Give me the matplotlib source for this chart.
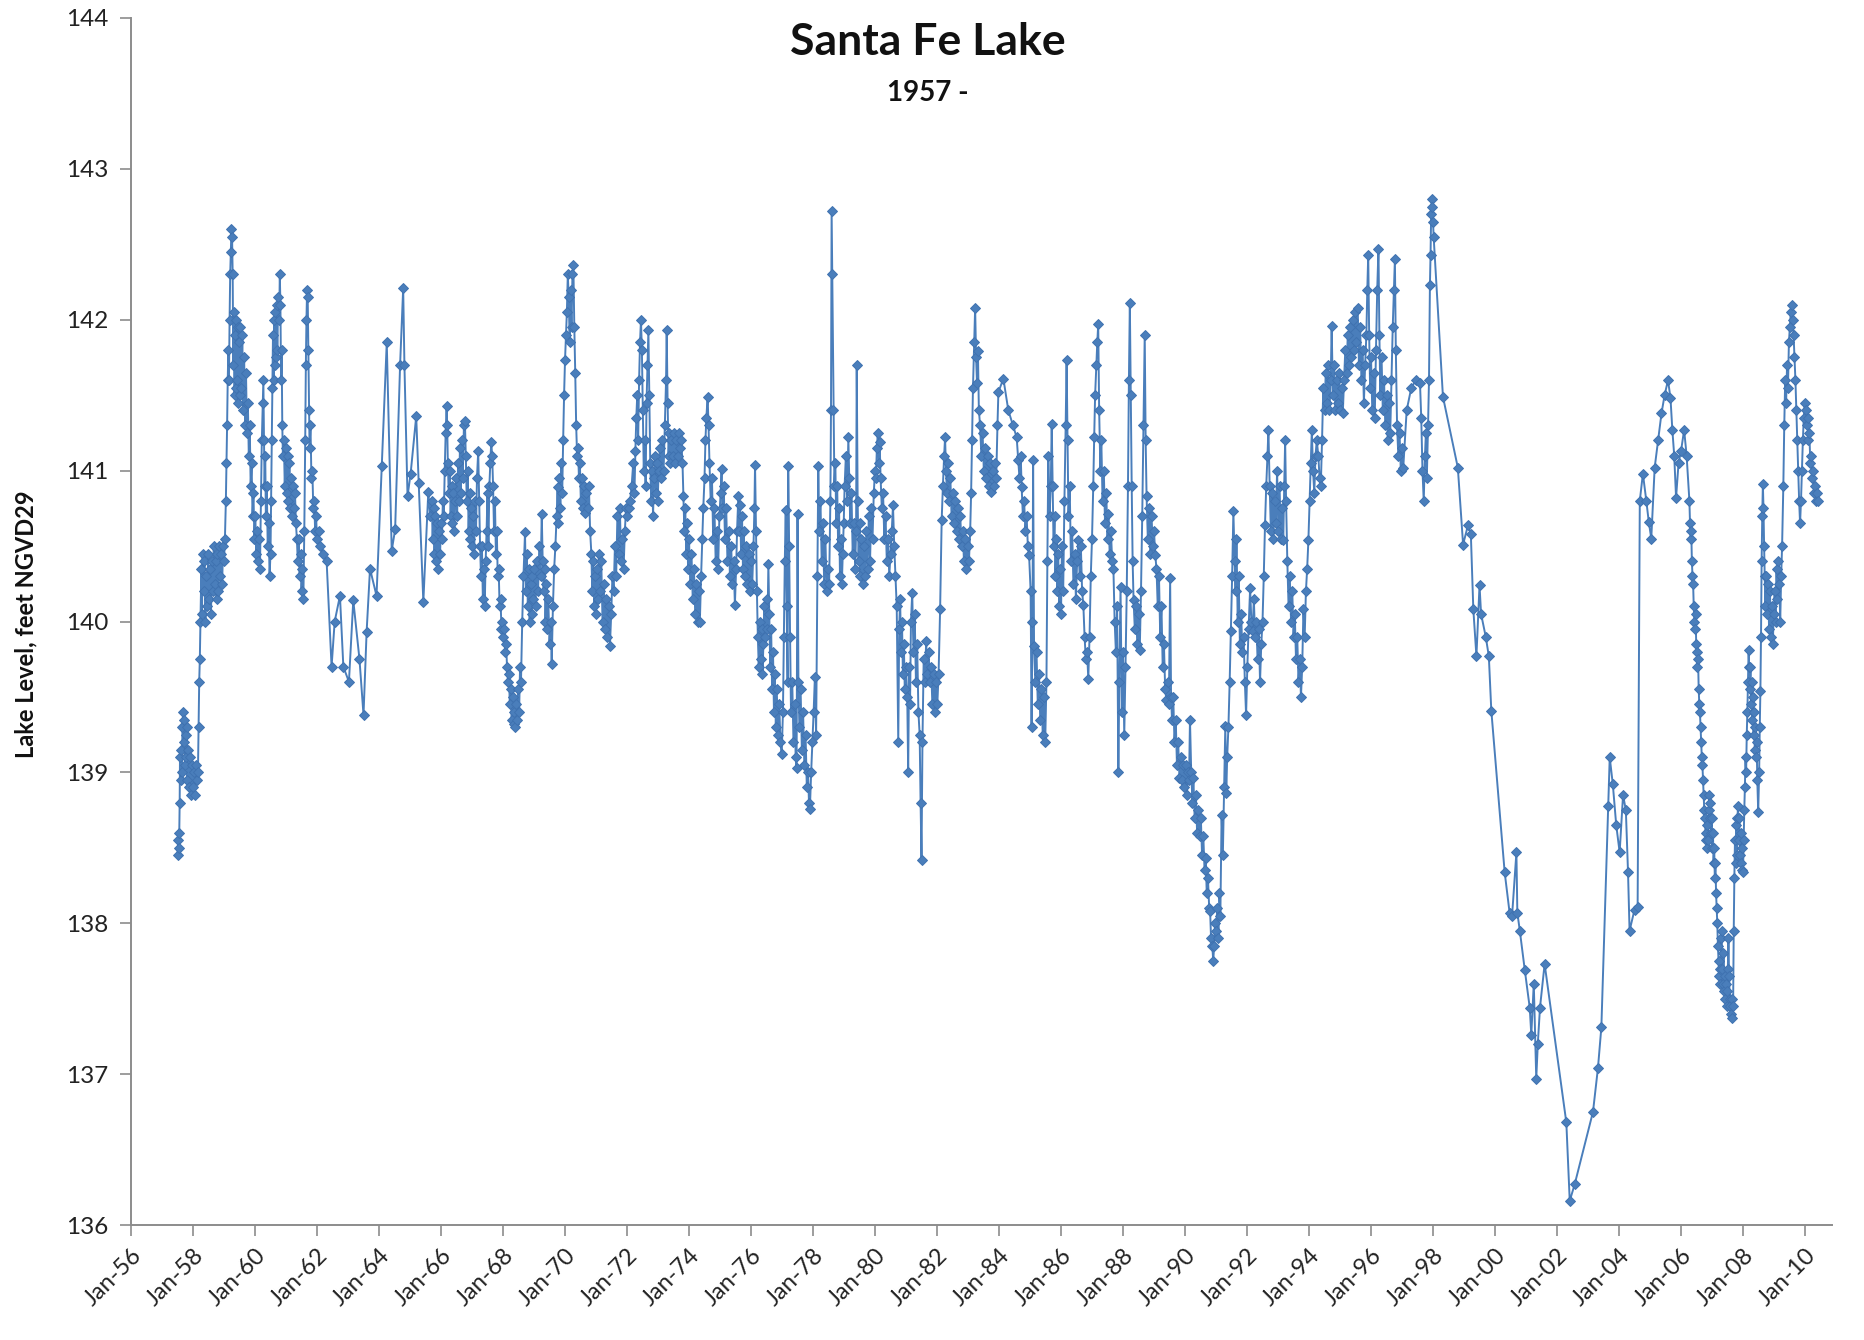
import matplotlib
matplotlib.use("Agg")
import matplotlib.pyplot as plt

# ---------------- data: (decimal year, lake level ft NGVD29) ----------------
seg_1957_1965 = [
    (1957.50, 138.45), (1957.52, 138.55), (1957.54, 138.60), (1957.55, 138.50), (1957.57, 138.80),
    (1957.58, 139.10), (1957.60, 138.95), (1957.62, 139.15), (1957.64, 139.00), (1957.66, 139.30),
    (1957.68, 139.40), (1957.70, 139.20), (1957.72, 139.35), (1957.74, 139.05), (1957.76, 139.25),
    (1957.78, 139.10), (1957.80, 139.30), (1957.82, 138.95), (1957.85, 139.15), (1957.88, 138.90),
    (1957.90, 139.10), (1957.93, 138.85), (1957.96, 139.05), (1958.00, 138.90), (1958.03, 139.00),
    (1958.06, 138.85), (1958.10, 139.05), (1958.13, 138.95), (1958.16, 139.00), (1958.18, 139.30),
    (1958.20, 139.60), (1958.22, 139.75), (1958.24, 140.00), (1958.27, 140.35), (1958.29, 140.05),
    (1958.31, 140.45), (1958.34, 140.20), (1958.37, 140.40), (1958.40, 140.00), (1958.43, 140.30),
    (1958.46, 140.10), (1958.49, 140.45), (1958.52, 140.15), (1958.55, 140.35), (1958.58, 140.05),
    (1958.61, 140.40), (1958.64, 140.20), (1958.67, 140.50), (1958.70, 140.25), (1958.73, 140.40),
    (1958.76, 140.15), (1958.79, 140.45), (1958.82, 140.20), (1958.85, 140.50), (1958.88, 140.30),
    (1958.91, 140.45), (1958.94, 140.25), (1958.97, 140.50), (1959.00, 140.40), (1959.03, 140.55),
    (1959.06, 140.80), (1959.08, 141.05), (1959.10, 141.30), (1959.12, 141.60), (1959.14, 141.80),
    (1959.16, 141.60), (1959.18, 142.00), (1959.20, 142.30), (1959.22, 142.45), (1959.24, 142.60),
    (1959.26, 142.55), (1959.28, 142.30), (1959.30, 141.70), (1959.32, 142.05), (1959.34, 141.50),
    (1959.36, 141.90), (1959.38, 141.55), (1959.40, 142.00), (1959.42, 141.60), (1959.44, 141.95),
    (1959.46, 141.45), (1959.48, 141.85), (1959.50, 141.50), (1959.53, 141.95), (1959.56, 141.55),
    (1959.59, 141.90), (1959.62, 141.40), (1959.65, 141.75), (1959.68, 141.30), (1959.71, 141.65),
    (1959.74, 141.25), (1959.77, 141.45), (1959.80, 141.10), (1959.83, 141.30), (1959.86, 140.90),
    (1959.89, 141.05), (1959.92, 140.70), (1959.95, 140.85), (1959.98, 140.55), (1960.01, 140.70),
    (1960.04, 140.45), (1960.07, 140.60), (1960.10, 140.40), (1960.13, 140.55), (1960.16, 140.35),
    (1960.19, 140.80), (1960.22, 141.20), (1960.25, 141.45), (1960.27, 141.60), (1960.29, 141.20),
    (1960.31, 140.90), (1960.33, 141.10), (1960.35, 140.70), (1960.38, 140.90), (1960.41, 140.50),
    (1960.44, 140.65), (1960.47, 140.30), (1960.50, 140.45), (1960.52, 140.80), (1960.54, 141.20),
    (1960.56, 141.55), (1960.58, 141.90), (1960.60, 141.60), (1960.62, 142.00), (1960.64, 141.70),
    (1960.66, 142.05), (1960.68, 141.75), (1960.70, 142.10), (1960.72, 141.80), (1960.75, 142.15),
    (1960.78, 142.00), (1960.80, 142.30), (1960.82, 142.10), (1960.84, 141.60), (1960.86, 141.80),
    (1960.88, 141.30), (1960.90, 141.10), (1960.93, 141.20), (1960.96, 140.90), (1960.99, 141.15),
    (1961.02, 140.85), (1961.05, 141.10), (1961.08, 140.80), (1961.11, 141.05), (1961.14, 140.75),
    (1961.17, 140.95), (1961.20, 140.70), (1961.23, 140.90), (1961.26, 140.75), (1961.29, 140.85),
    (1961.32, 140.65), (1961.35, 140.55), (1961.38, 140.40), (1961.41, 140.55), (1961.44, 140.30),
    (1961.47, 140.45), (1961.50, 140.20), (1961.53, 140.35), (1961.56, 140.15), (1961.59, 140.60),
    (1961.62, 141.20), (1961.64, 141.70), (1961.66, 142.00), (1961.68, 142.20), (1961.70, 142.15),
    (1961.72, 141.80), (1961.74, 141.40), (1961.76, 141.15), (1961.79, 141.30), (1961.82, 140.95),
    (1961.85, 141.00), (1961.88, 140.75), (1961.91, 140.80), (1961.94, 140.60), (1961.97, 140.70),
    (1962.00, 140.55), (1962.05, 140.60), (1962.10, 140.50), (1962.20, 140.45), (1962.31, 140.40),
    (1962.47, 139.70), (1962.57, 140.00), (1962.74, 140.17), (1962.85, 139.70), (1963.03, 139.60),
    (1963.17, 140.14), (1963.37, 139.75), (1963.50, 139.38), (1963.60, 139.93), (1963.71, 140.35),
    (1963.92, 140.17), (1964.09, 141.03), (1964.25, 141.85), (1964.41, 140.47), (1964.52, 140.61),
    (1964.68, 141.70), (1964.78, 142.21), (1964.82, 141.70), (1964.92, 140.83), (1965.02, 140.98),
    (1965.20, 141.36),
]

seg_1965_1973 = [
    (1965.28, 140.92), (1965.43, 140.13), (1965.59, 140.86), (1965.65, 140.70), (1965.70, 140.80),
    (1965.73, 140.55), (1965.76, 140.75), (1965.79, 140.45), (1965.82, 140.70), (1965.85, 140.40),
    (1965.88, 140.65), (1965.91, 140.35), (1965.94, 140.60), (1965.97, 140.45), (1966.00, 140.65),
    (1966.03, 140.55), (1966.06, 140.80), (1966.09, 140.70), (1966.12, 141.00), (1966.15, 141.25),
    (1966.18, 141.43), (1966.20, 141.30), (1966.22, 141.05), (1966.25, 140.85), (1966.28, 141.00),
    (1966.31, 140.70), (1966.34, 140.90), (1966.37, 140.65), (1966.40, 140.85), (1966.43, 140.60),
    (1966.46, 140.80), (1966.49, 140.95), (1966.52, 140.70), (1966.55, 141.05), (1966.58, 140.80),
    (1966.61, 141.15), (1966.64, 140.85), (1966.67, 141.20), (1966.70, 140.95), (1966.74, 141.30),
    (1966.77, 141.33), (1966.80, 141.10), (1966.83, 140.80), (1966.86, 141.00), (1966.89, 140.60),
    (1966.92, 140.85), (1966.95, 140.55), (1966.98, 140.75), (1967.01, 140.50), (1967.04, 140.70),
    (1967.07, 140.45), (1967.10, 140.80), (1967.13, 140.60), (1967.16, 140.95), (1967.20, 141.13),
    (1967.23, 140.80), (1967.26, 140.50), (1967.29, 140.30), (1967.32, 140.50), (1967.35, 140.15),
    (1967.38, 140.35), (1967.41, 140.10), (1967.44, 140.40), (1967.47, 140.60), (1967.50, 140.85),
    (1967.53, 140.50), (1967.56, 140.90), (1967.59, 141.05), (1967.62, 141.19), (1967.65, 141.10),
    (1967.68, 140.90), (1967.71, 140.60), (1967.74, 140.80), (1967.77, 140.45), (1967.80, 140.60),
    (1967.83, 140.30), (1967.86, 140.35), (1967.89, 140.10), (1967.92, 140.15), (1967.95, 139.95),
    (1967.98, 140.00), (1968.01, 139.90), (1968.04, 139.95), (1968.07, 139.80), (1968.10, 139.85),
    (1968.13, 139.70), (1968.16, 139.60), (1968.19, 139.65), (1968.22, 139.45), (1968.25, 139.55),
    (1968.28, 139.35), (1968.31, 139.50), (1968.34, 139.32), (1968.37, 139.40), (1968.40, 139.30),
    (1968.43, 139.45), (1968.46, 139.35), (1968.49, 139.55), (1968.52, 139.40), (1968.55, 139.70),
    (1968.58, 139.60), (1968.62, 140.00), (1968.66, 140.30), (1968.71, 140.59), (1968.74, 140.20),
    (1968.77, 140.45), (1968.80, 140.10), (1968.83, 140.35), (1968.86, 140.00), (1968.89, 140.25),
    (1968.92, 140.05), (1968.95, 140.30), (1968.98, 140.15), (1969.01, 140.35), (1969.05, 140.10),
    (1969.09, 140.40), (1969.13, 140.20), (1969.17, 140.50), (1969.21, 140.30), (1969.25, 140.71),
    (1969.28, 140.40), (1969.31, 140.20), (1969.34, 140.35), (1969.37, 140.00), (1969.40, 140.25),
    (1969.43, 139.95), (1969.46, 140.15), (1969.50, 139.85), (1969.54, 140.00), (1969.57, 139.72),
    (1969.61, 140.10), (1969.65, 140.35), (1969.69, 140.50), (1969.73, 140.70), (1969.76, 140.89),
    (1969.79, 140.65), (1969.82, 140.95), (1969.85, 140.75), (1969.88, 141.05), (1969.91, 140.85),
    (1969.94, 141.20), (1969.97, 141.50), (1970.00, 141.73), (1970.03, 141.90), (1970.06, 142.05),
    (1970.09, 142.30), (1970.12, 142.15), (1970.15, 141.85), (1970.18, 142.20), (1970.21, 141.95),
    (1970.24, 142.30), (1970.27, 142.36), (1970.30, 141.95), (1970.33, 141.65), (1970.36, 141.30),
    (1970.39, 141.10), (1970.42, 141.15), (1970.45, 140.95), (1970.48, 141.05), (1970.51, 140.80),
    (1970.54, 140.95), (1970.57, 140.75), (1970.61, 140.90), (1970.65, 140.72), (1970.69, 140.85),
    (1970.73, 140.75), (1970.77, 140.90), (1970.81, 140.60), (1970.85, 140.45), (1970.88, 140.20),
    (1970.91, 140.40), (1970.94, 140.10), (1970.97, 140.30), (1971.00, 140.05), (1971.03, 140.35),
    (1971.06, 140.15), (1971.09, 140.45), (1971.13, 140.20), (1971.17, 140.40), (1971.21, 140.00),
    (1971.25, 140.25), (1971.29, 139.95), (1971.33, 140.15), (1971.37, 139.90), (1971.41, 140.10),
    (1971.45, 139.84), (1971.49, 140.05), (1971.53, 140.30), (1971.57, 140.20), (1971.61, 140.50),
    (1971.65, 140.30), (1971.69, 140.70), (1971.73, 140.45), (1971.77, 140.75), (1971.81, 140.40),
    (1971.85, 140.55), (1971.89, 140.35), (1971.93, 140.60), (1971.97, 140.75), (1972.01, 140.70),
    (1972.05, 140.75), (1972.10, 140.80), (1972.15, 140.90), (1972.20, 141.05), (1972.24, 140.85),
    (1972.27, 141.13), (1972.30, 141.35), (1972.33, 141.50), (1972.36, 141.20), (1972.39, 141.60),
    (1972.42, 141.85), (1972.45, 142.00), (1972.48, 141.80), (1972.51, 141.40), (1972.54, 141.00),
    (1972.57, 141.20), (1972.60, 140.90), (1972.63, 141.45), (1972.66, 141.70), (1972.69, 141.93),
    (1972.72, 141.50), (1972.75, 141.05), (1972.78, 140.80), (1972.81, 141.00), (1972.84, 140.70),
    (1972.87, 140.95), (1972.90, 141.10), (1972.93, 140.85), (1972.96, 141.05), (1972.99, 140.80),
    (1973.02, 141.00), (1973.06, 141.15), (1973.10, 140.95), (1973.14, 141.20), (1973.18, 141.00),
    (1973.22, 141.30), (1973.26, 141.60), (1973.28, 141.93), (1973.31, 141.45), (1973.34, 141.10),
    (1973.37, 141.25), (1973.40, 141.05), (1973.43, 141.20), (1973.47, 141.10), (1973.51, 141.25),
    (1973.55, 141.05), (1973.59, 141.20), (1973.63, 141.10), (1973.67, 141.25), (1973.71, 141.15),
    (1973.75, 141.20), (1973.79, 141.05),
]

seg_1973_1981 = [
    (1973.82, 140.83), (1973.85, 140.60), (1973.88, 140.75), (1973.91, 140.45), (1973.94, 140.65),
    (1973.97, 140.35), (1974.00, 140.55), (1974.04, 140.25), (1974.08, 140.45), (1974.12, 140.15),
    (1974.16, 140.35), (1974.20, 140.05), (1974.24, 140.25), (1974.28, 140.00), (1974.31, 140.20),
    (1974.35, 140.00), (1974.39, 140.30), (1974.43, 140.55), (1974.46, 140.75), (1974.50, 140.95),
    (1974.53, 141.20), (1974.56, 141.35), (1974.60, 141.49), (1974.63, 141.30), (1974.66, 141.05),
    (1974.70, 140.80), (1974.74, 140.95), (1974.78, 140.55), (1974.82, 140.75), (1974.86, 140.40),
    (1974.90, 140.60), (1974.94, 140.35), (1974.98, 140.70), (1975.02, 140.85), (1975.05, 141.01),
    (1975.08, 140.75), (1975.12, 140.90), (1975.16, 140.55), (1975.20, 140.75), (1975.24, 140.40),
    (1975.28, 140.60), (1975.32, 140.30), (1975.36, 140.50), (1975.40, 140.25), (1975.44, 140.40),
    (1975.48, 140.11), (1975.52, 140.35), (1975.55, 140.60), (1975.59, 140.83), (1975.62, 140.60),
    (1975.65, 140.77), (1975.68, 140.45), (1975.71, 140.70), (1975.74, 140.35), (1975.77, 140.60),
    (1975.80, 140.30), (1975.84, 140.50), (1975.88, 140.25), (1975.92, 140.45), (1975.96, 140.20),
    (1976.00, 140.40), (1976.04, 140.25), (1976.08, 140.50), (1976.11, 140.75), (1976.13, 141.04),
    (1976.16, 140.60), (1976.19, 140.20), (1976.22, 139.90), (1976.25, 139.70), (1976.28, 140.00),
    (1976.31, 139.75), (1976.34, 139.95), (1976.37, 139.65), (1976.40, 139.85), (1976.43, 140.10),
    (1976.46, 139.90), (1976.50, 140.15), (1976.53, 139.95), (1976.56, 140.38), (1976.59, 140.05),
    (1976.62, 139.70), (1976.65, 139.95), (1976.68, 139.55), (1976.71, 139.80), (1976.74, 139.40),
    (1976.77, 139.65), (1976.80, 139.30), (1976.83, 139.55), (1976.87, 139.25), (1976.91, 139.45),
    (1976.95, 139.20), (1976.99, 139.12), (1977.03, 139.40), (1977.06, 139.90), (1977.09, 140.40),
    (1977.12, 140.74), (1977.15, 140.10), (1977.18, 139.60), (1977.20, 141.03), (1977.23, 140.50),
    (1977.26, 139.90), (1977.29, 139.40), (1977.33, 139.60), (1977.37, 139.20), (1977.41, 139.45),
    (1977.44, 139.10), (1977.47, 139.03), (1977.50, 140.71), (1977.53, 139.60), (1977.56, 139.30),
    (1977.60, 139.55), (1977.64, 139.15), (1977.68, 139.40), (1977.72, 139.05), (1977.76, 139.25),
    (1977.80, 138.90), (1977.84, 139.00), (1977.87, 138.80), (1977.90, 138.76), (1977.94, 139.00),
    (1977.98, 139.20), (1978.02, 139.40), (1978.06, 139.63), (1978.10, 139.25), (1978.14, 140.30),
    (1978.17, 141.03), (1978.20, 140.60), (1978.24, 140.80), (1978.28, 140.40), (1978.32, 140.65),
    (1978.36, 140.25), (1978.40, 140.55), (1978.44, 140.20), (1978.48, 140.35), (1978.52, 140.25),
    (1978.56, 140.80), (1978.58, 141.40), (1978.60, 142.72), (1978.62, 142.30), (1978.66, 141.40),
    (1978.69, 140.90), (1978.72, 141.05), (1978.75, 140.65), (1978.78, 140.90), (1978.81, 140.50),
    (1978.84, 140.75), (1978.87, 140.30), (1978.90, 140.55), (1978.93, 140.25), (1978.96, 140.45),
    (1978.99, 140.65), (1979.02, 140.90), (1979.06, 141.10), (1979.10, 140.80), (1979.14, 141.22),
    (1979.17, 140.95), (1979.20, 140.65), (1979.24, 140.85), (1979.28, 140.45), (1979.32, 140.65),
    (1979.36, 140.35), (1979.39, 140.60), (1979.41, 141.70), (1979.44, 140.80), (1979.47, 140.40),
    (1979.50, 140.65), (1979.53, 140.30), (1979.56, 140.55), (1979.60, 140.25), (1979.64, 140.50),
    (1979.68, 140.30), (1979.72, 140.60), (1979.76, 140.35), (1979.80, 140.70), (1979.84, 140.40),
    (1979.88, 140.75), (1979.92, 140.55), (1979.96, 140.85), (1980.00, 141.00), (1980.03, 140.95),
    (1980.06, 141.15), (1980.09, 141.25), (1980.12, 141.05), (1980.15, 141.19), (1980.18, 140.95),
    (1980.22, 140.75), (1980.26, 140.85), (1980.30, 140.55), (1980.34, 140.70), (1980.38, 140.40),
    (1980.42, 140.55), (1980.46, 140.30), (1980.50, 140.45), (1980.54, 140.60), (1980.58, 140.77),
    (1980.62, 140.50), (1980.66, 140.30), (1980.70, 140.10), (1980.75, 139.20), (1980.78, 139.95),
    (1980.81, 140.15), (1980.84, 139.80), (1980.87, 140.00), (1980.90, 139.65), (1980.93, 139.85),
    (1980.96, 139.55), (1981.00, 139.70), (1981.04, 139.50), (1981.07, 139.00), (1981.10, 139.70),
    (1981.13, 139.45), (1981.16, 140.00), (1981.20, 140.19), (1981.24, 139.80), (1981.28, 140.05),
    (1981.32, 139.60), (1981.36, 139.85), (1981.40, 139.40), (1981.44, 139.25), (1981.47, 138.80),
    (1981.50, 138.42), (1981.53, 139.20), (1981.57, 139.75), (1981.61, 139.60), (1981.65, 139.87),
    (1981.69, 139.65), (1981.73, 139.80), (1981.77, 139.60), (1981.81, 139.70), (1981.85, 139.45),
    (1981.89, 139.65), (1981.93, 139.40), (1981.97, 139.60),
]

seg_1982_1989 = [
    (1982.01, 139.45), (1982.05, 139.65), (1982.10, 140.08), (1982.15, 140.67), (1982.19, 140.90),
    (1982.23, 141.10), (1982.26, 141.22), (1982.29, 141.00), (1982.32, 140.85), (1982.35, 141.05),
    (1982.39, 140.80), (1982.43, 140.95), (1982.47, 140.70), (1982.51, 140.85), (1982.55, 140.65),
    (1982.59, 140.80), (1982.63, 140.60), (1982.67, 140.75), (1982.71, 140.55), (1982.75, 140.70),
    (1982.79, 140.50), (1982.83, 140.60), (1982.87, 140.40), (1982.91, 140.55), (1982.95, 140.35),
    (1982.99, 140.50), (1983.03, 140.40), (1983.07, 140.60), (1983.10, 140.85), (1983.13, 141.20),
    (1983.16, 141.55), (1983.20, 141.85), (1983.23, 142.08), (1983.26, 141.75), (1983.29, 141.58),
    (1983.32, 141.79), (1983.35, 141.40), (1983.39, 141.30), (1983.43, 141.10), (1983.47, 141.25),
    (1983.51, 141.00), (1983.55, 141.15), (1983.59, 140.95), (1983.63, 141.10), (1983.67, 140.90),
    (1983.71, 141.05), (1983.75, 140.86), (1983.79, 141.00), (1983.83, 140.90), (1983.87, 141.05),
    (1983.91, 140.95), (1983.95, 141.30), (1983.98, 141.52), (1984.14, 141.61), (1984.30, 141.40),
    (1984.45, 141.30), (1984.57, 141.22), (1984.62, 141.07), (1984.66, 140.95), (1984.70, 141.10),
    (1984.73, 140.89), (1984.77, 140.70), (1984.81, 140.80), (1984.85, 140.60), (1984.89, 140.70),
    (1984.93, 140.50), (1984.97, 140.44), (1985.02, 140.20), (1985.05, 139.30), (1985.08, 140.00),
    (1985.10, 141.07), (1985.13, 139.84), (1985.17, 139.60), (1985.21, 139.80), (1985.25, 139.45),
    (1985.29, 139.65), (1985.33, 139.35), (1985.37, 139.55), (1985.41, 139.25), (1985.45, 139.50),
    (1985.49, 139.20), (1985.53, 139.60), (1985.56, 140.40), (1985.59, 141.10), (1985.63, 140.70),
    (1985.67, 140.90), (1985.70, 141.31), (1985.73, 140.90), (1985.76, 140.50), (1985.79, 140.70),
    (1985.82, 140.30), (1985.85, 140.55), (1985.88, 140.20), (1985.91, 140.45), (1985.94, 140.10),
    (1985.97, 140.35), (1986.00, 140.05), (1986.03, 140.50), (1986.07, 140.20), (1986.11, 140.80),
    (1986.15, 141.30), (1986.18, 141.73), (1986.21, 141.20), (1986.24, 140.70), (1986.28, 140.90),
    (1986.32, 140.40), (1986.36, 140.60), (1986.40, 140.25), (1986.44, 140.45), (1986.48, 140.15),
    (1986.52, 140.40), (1986.56, 140.54), (1986.60, 140.30), (1986.64, 140.50), (1986.68, 140.20),
    (1986.72, 140.11), (1986.76, 139.90), (1986.80, 139.75), (1986.84, 139.80), (1986.88, 139.62),
    (1986.92, 139.90), (1986.96, 140.30), (1987.00, 140.55), (1987.04, 140.90), (1987.07, 141.22),
    (1987.10, 141.50), (1987.14, 141.70), (1987.17, 141.85), (1987.20, 141.97), (1987.23, 141.40),
    (1987.27, 141.00), (1987.30, 141.20), (1987.34, 140.80), (1987.38, 141.00), (1987.42, 140.65),
    (1987.46, 140.85), (1987.50, 140.55), (1987.53, 140.71), (1987.57, 140.45), (1987.61, 140.60),
    (1987.65, 140.40), (1987.69, 140.35), (1987.73, 140.00), (1987.77, 139.80), (1987.81, 140.10),
    (1987.85, 139.00), (1987.88, 139.60), (1987.92, 140.23), (1987.96, 139.40), (1988.00, 139.80),
    (1988.04, 139.25), (1988.08, 139.70), (1988.12, 140.20), (1988.16, 140.90), (1988.19, 141.60),
    (1988.22, 142.11), (1988.25, 141.50), (1988.28, 140.90), (1988.31, 140.40), (1988.34, 140.14),
    (1988.38, 139.95), (1988.42, 140.10), (1988.46, 139.85), (1988.50, 140.05), (1988.54, 139.81),
    (1988.58, 140.20), (1988.62, 140.70), (1988.66, 141.30), (1988.70, 141.90), (1988.73, 141.20),
    (1988.76, 140.83), (1988.80, 140.55), (1988.84, 140.75), (1988.88, 140.45), (1988.92, 140.70),
    (1988.96, 140.50), (1989.00, 140.60), (1989.04, 140.44), (1989.08, 140.35), (1989.12, 140.10),
    (1989.16, 140.30), (1989.20, 139.90), (1989.24, 140.10), (1989.28, 139.70), (1989.32, 139.85),
    (1989.36, 139.55), (1989.40, 139.48), (1989.44, 139.60), (1989.48, 139.45), (1989.52, 140.29),
    (1989.55, 139.50), (1989.58, 139.35), (1989.62, 139.50), (1989.66, 139.20), (1989.70, 139.35),
    (1989.74, 139.05), (1989.78, 139.20), (1989.82, 138.96), (1989.86, 139.10), (1989.90, 138.95),
    (1989.94, 139.05), (1989.98, 138.90),
]

seg_1990_1997 = [
    (1990.02, 139.05), (1990.06, 138.85), (1990.10, 139.00), (1990.13, 138.95), (1990.16, 139.35),
    (1990.20, 139.00), (1990.24, 138.80), (1990.27, 138.96), (1990.31, 138.70), (1990.35, 138.85),
    (1990.39, 138.60), (1990.43, 138.75), (1990.47, 138.58), (1990.51, 138.70), (1990.55, 138.45),
    (1990.59, 138.58), (1990.63, 138.35), (1990.67, 138.43), (1990.70, 138.20), (1990.74, 138.30),
    (1990.78, 138.10), (1990.81, 138.08), (1990.84, 137.90), (1990.88, 137.85), (1990.91, 137.75),
    (1990.94, 137.85), (1990.97, 138.00), (1991.00, 137.95), (1991.04, 138.10), (1991.08, 137.90),
    (1991.11, 138.20), (1991.14, 138.05), (1991.18, 138.72), (1991.22, 138.45), (1991.26, 138.90),
    (1991.30, 139.31), (1991.33, 138.86), (1991.36, 139.10), (1991.40, 139.30), (1991.44, 139.60),
    (1991.48, 139.94), (1991.52, 140.30), (1991.56, 140.73), (1991.60, 140.40), (1991.63, 140.20),
    (1991.66, 140.55), (1991.70, 140.00), (1991.73, 140.30), (1991.77, 139.85), (1991.81, 140.05),
    (1991.85, 139.80), (1991.89, 139.90), (1991.93, 139.60), (1991.97, 139.38), (1992.01, 139.70),
    (1992.05, 139.95), (1992.10, 140.22), (1992.14, 140.00), (1992.18, 139.94), (1992.22, 140.15),
    (1992.26, 139.90), (1992.30, 140.00), (1992.34, 139.75), (1992.38, 139.95), (1992.42, 139.60),
    (1992.46, 139.85), (1992.50, 140.00), (1992.54, 140.30), (1992.58, 140.64), (1992.62, 140.90),
    (1992.66, 141.10), (1992.69, 141.27), (1992.73, 140.90), (1992.77, 140.60), (1992.81, 140.85),
    (1992.85, 140.55), (1992.89, 140.80), (1992.93, 140.65), (1992.97, 141.00), (1993.01, 140.60),
    (1993.05, 140.90), (1993.09, 140.55), (1993.13, 140.75), (1993.17, 140.54), (1993.20, 140.90),
    (1993.23, 141.20), (1993.26, 140.80), (1993.30, 140.40), (1993.34, 140.10), (1993.38, 140.30),
    (1993.42, 140.00), (1993.46, 140.20), (1993.50, 139.90), (1993.54, 140.05), (1993.58, 139.75),
    (1993.62, 139.90), (1993.66, 139.60), (1993.70, 139.75), (1993.74, 139.50), (1993.78, 139.70),
    (1993.82, 140.08), (1993.86, 139.90), (1993.90, 140.20), (1993.94, 140.35), (1993.98, 140.54),
    (1994.02, 140.80), (1994.06, 141.05), (1994.09, 141.27), (1994.13, 141.00), (1994.17, 140.85),
    (1994.21, 141.10), (1994.25, 141.20), (1994.30, 141.10), (1994.34, 140.95), (1994.38, 140.90),
    (1994.42, 141.20), (1994.46, 141.55), (1994.50, 141.40), (1994.54, 141.65), (1994.58, 141.45),
    (1994.62, 141.70), (1994.66, 141.40), (1994.70, 141.60), (1994.73, 141.96), (1994.77, 141.50),
    (1994.81, 141.70), (1994.85, 141.40), (1994.89, 141.60), (1994.93, 141.45), (1994.97, 141.65),
    (1995.01, 141.40), (1995.05, 141.55), (1995.09, 141.38), (1995.13, 141.60), (1995.17, 141.80),
    (1995.21, 141.65), (1995.25, 141.90), (1995.29, 141.70), (1995.33, 141.95), (1995.37, 141.75),
    (1995.41, 142.00), (1995.45, 141.80), (1995.49, 142.05), (1995.53, 141.85), (1995.57, 142.08),
    (1995.61, 141.70), (1995.65, 141.95), (1995.69, 141.60), (1995.73, 141.80), (1995.77, 141.45),
    (1995.81, 141.70), (1995.85, 141.90), (1995.88, 142.20), (1995.91, 142.43), (1995.94, 141.90),
    (1995.97, 141.55), (1996.00, 141.75), (1996.04, 141.40), (1996.08, 141.65), (1996.12, 141.35),
    (1996.16, 141.80), (1996.20, 142.20), (1996.24, 142.47), (1996.27, 141.90), (1996.30, 141.50),
    (1996.34, 141.75), (1996.38, 141.40), (1996.42, 141.60), (1996.46, 141.30), (1996.50, 141.50),
    (1996.54, 141.20), (1996.58, 141.45), (1996.62, 141.25), (1996.66, 141.60), (1996.70, 141.95),
    (1996.74, 142.20), (1996.77, 142.40), (1996.80, 141.80), (1996.84, 141.30), (1996.88, 141.10),
    (1996.92, 141.25), (1996.96, 141.00), (1997.00, 141.15), (1997.04, 141.02),
]

seg_1997_2005 = [
    (1997.15, 141.40), (1997.30, 141.55), (1997.45, 141.60), (1997.58, 141.58), (1997.62, 141.35),
    (1997.66, 141.00), (1997.70, 140.80), (1997.74, 141.10), (1997.77, 141.25), (1997.80, 140.95),
    (1997.84, 141.30), (1997.87, 141.60), (1997.90, 142.23), (1997.92, 142.43), (1997.94, 142.70),
    (1997.96, 142.80), (1997.98, 142.75), (1998.00, 142.65), (1998.02, 142.55), (1998.32, 141.49),
    (1998.80, 141.02), (1998.97, 140.51), (1999.13, 140.64), (1999.22, 140.58), (1999.30, 140.08),
    (1999.40, 139.77), (1999.50, 140.24), (1999.55, 140.05), (1999.70, 139.90), (1999.80, 139.77),
    (1999.88, 139.41), (2000.31, 138.34), (2000.47, 138.07), (2000.55, 138.05), (2000.69, 138.47),
    (2000.72, 138.07), (2000.80, 137.95), (2000.96, 137.69), (2001.12, 137.44), (2001.17, 137.26),
    (2001.25, 137.60), (2001.33, 136.97), (2001.38, 137.20), (2001.45, 137.44), (2001.60, 137.73),
    (2002.30, 136.68), (2002.41, 136.16), (2002.57, 136.27), (2003.16, 136.75), (2003.32, 137.04),
    (2003.43, 137.31), (2003.65, 138.78), (2003.70, 139.10), (2003.80, 138.92), (2003.91, 138.65),
    (2004.02, 138.47), (2004.13, 138.85), (2004.22, 138.75), (2004.29, 138.34), (2004.34, 137.95),
    (2004.50, 138.09), (2004.60, 138.11), (2004.67, 140.80), (2004.77, 140.98), (2004.88, 140.80),
    (2004.96, 140.66), (2005.04, 140.55), (2005.15, 141.02), (2005.26, 141.20), (2005.37, 141.38),
    (2005.47, 141.50), (2005.58, 141.60), (2005.66, 141.48), (2005.72, 141.27), (2005.78, 141.10),
    (2005.84, 140.82), (2005.92, 141.05),
]

seg_2006_2010 = [
    (2006.00, 141.13), (2006.10, 141.27), (2006.18, 141.10), (2006.27, 140.80), (2006.29, 140.65),
    (2006.31, 140.55), (2006.33, 140.60), (2006.35, 140.40), (2006.37, 140.30), (2006.39, 140.25),
    (2006.41, 140.10), (2006.43, 140.00), (2006.45, 139.95), (2006.47, 140.05), (2006.49, 139.85),
    (2006.51, 139.80), (2006.53, 139.70), (2006.55, 139.75), (2006.57, 139.55), (2006.59, 139.45),
    (2006.61, 139.40), (2006.63, 139.30), (2006.65, 139.20), (2006.67, 139.10), (2006.69, 139.05),
    (2006.71, 138.95), (2006.73, 138.85), (2006.75, 138.75), (2006.77, 138.70), (2006.79, 138.60),
    (2006.81, 138.55), (2006.83, 138.65), (2006.85, 138.50), (2006.87, 138.55), (2006.89, 138.75),
    (2006.91, 138.85), (2006.93, 138.70), (2006.95, 138.80), (2006.97, 138.60), (2006.99, 138.70),
    (2007.01, 138.50), (2007.03, 138.60), (2007.05, 138.40), (2007.07, 138.50), (2007.09, 138.30),
    (2007.11, 138.40), (2007.13, 138.20), (2007.15, 138.10), (2007.17, 138.00), (2007.19, 137.85),
    (2007.21, 137.75), (2007.23, 137.65), (2007.25, 137.70), (2007.27, 137.60), (2007.29, 137.90),
    (2007.31, 137.95), (2007.33, 137.70), (2007.35, 137.60), (2007.37, 137.80), (2007.39, 137.55),
    (2007.41, 137.65), (2007.43, 137.50), (2007.45, 137.60), (2007.47, 137.45), (2007.49, 137.55),
    (2007.51, 137.70), (2007.53, 137.90), (2007.55, 137.65), (2007.57, 137.50), (2007.59, 137.45),
    (2007.61, 137.40), (2007.63, 137.50), (2007.65, 137.37), (2007.68, 137.45), (2007.70, 137.95),
    (2007.72, 138.30), (2007.74, 138.55), (2007.76, 138.40), (2007.78, 138.65), (2007.80, 138.45),
    (2007.82, 138.70), (2007.84, 138.78), (2007.86, 138.55), (2007.88, 138.70), (2007.90, 138.45),
    (2007.92, 138.60), (2007.94, 138.40), (2007.96, 138.35), (2007.98, 138.50), (2008.00, 138.34),
    (2008.02, 138.55), (2008.04, 138.75), (2008.06, 138.90), (2008.08, 139.10), (2008.10, 139.00),
    (2008.12, 139.25), (2008.14, 139.40), (2008.16, 139.60), (2008.18, 139.81), (2008.20, 139.70),
    (2008.22, 139.55), (2008.24, 139.70), (2008.26, 139.45), (2008.28, 139.60), (2008.30, 139.35),
    (2008.32, 139.50), (2008.34, 139.25), (2008.36, 139.40), (2008.38, 139.15), (2008.40, 139.30),
    (2008.42, 139.10), (2008.44, 139.20), (2008.46, 138.95), (2008.49, 138.74), (2008.52, 139.00),
    (2008.54, 139.30), (2008.56, 139.54), (2008.58, 139.90), (2008.60, 140.40), (2008.62, 140.70),
    (2008.64, 140.91), (2008.66, 140.75), (2008.68, 140.50), (2008.70, 140.30), (2008.72, 140.10),
    (2008.75, 140.30), (2008.78, 140.05), (2008.81, 140.25), (2008.84, 139.95), (2008.87, 140.20),
    (2008.90, 139.90), (2008.93, 140.10), (2008.96, 139.85), (2008.99, 140.05), (2009.02, 140.20),
    (2009.05, 140.00), (2009.08, 140.35), (2009.11, 140.15), (2009.14, 140.40), (2009.17, 140.25),
    (2009.20, 140.00), (2009.23, 140.30), (2009.26, 140.50), (2009.30, 140.90), (2009.33, 141.30),
    (2009.36, 141.60), (2009.39, 141.45), (2009.42, 141.70), (2009.45, 141.55), (2009.48, 141.85),
    (2009.51, 141.95), (2009.54, 142.05), (2009.57, 142.10), (2009.60, 142.00), (2009.63, 141.90),
    (2009.66, 141.75), (2009.69, 141.60), (2009.72, 141.40), (2009.75, 141.20), (2009.78, 141.00),
    (2009.81, 140.80), (2009.84, 140.65), (2009.87, 140.80), (2009.90, 141.00), (2009.93, 141.20),
    (2009.96, 141.35), (2009.99, 141.45), (2010.02, 141.40), (2010.05, 141.30), (2010.08, 141.35),
    (2010.11, 141.20), (2010.14, 141.25), (2010.17, 141.05), (2010.20, 141.10), (2010.23, 140.95),
    (2010.26, 141.00), (2010.29, 140.85), (2010.32, 140.90), (2010.35, 140.80), (2010.38, 140.85),
    (2010.41, 140.80),
]

tick_years = list(range(1956, 2011, 2))
tick_labels = ["Jan-%02d" % (y % 100) for y in tick_years]
y_ticks = [136, 137, 138, 139, 140, 141, 142, 143, 144]

title_text = "Santa Fe Lake"
subtitle_text = "1957 -"
ylabel_text = "Lake Level, feet NGVD29"

# ---------------- figure ----------------
segments = [seg_1957_1965, seg_1965_1973, seg_1973_1981, seg_1982_1989,
            seg_1990_1997, seg_1997_2005, seg_2006_2010]
xs = [p[0] for seg in segments for p in seg]
ys = [p[1] for seg in segments for p in seg]

plt.rcParams['font.family'] = ['Lato', 'DejaVu Sans']

W, H = 1865, 1340
fig = plt.figure(figsize=(W / 100, H / 100), dpi=100)
ax = fig.add_axes([131 / W, 1 - 1225 / H, (1832 - 131) / W, (1225 - 18) / H])

line_color = '#4A7EBB'
ax.plot(xs, ys, color=line_color, lw=1.4, marker='D', ms=5.6,
        mfc='#4A7EBB', mec='#3F72B0', mew=0.7, zorder=3)

ax.set_xlim(1956.0, 2010.87)
ax.set_ylim(136, 144)
ax.set_xticks(tick_years)
ax.set_xticklabels(tick_labels, rotation=45, ha='right', va='top',
                   rotation_mode='anchor', fontsize=17, color='#222222')
ax.set_yticks(y_ticks)
ax.set_yticklabels([str(v) for v in y_ticks], fontsize=17.5, color='#222222')

for side in ('top', 'right'):
    ax.spines[side].set_visible(False)
for side in ('left', 'bottom'):
    ax.spines[side].set_color('#8C8C8C')
    ax.spines[side].set_linewidth(1.4)
ax.tick_params(axis='both', direction='out', length=8, width=1.2, color='#8C8C8C')
ax.tick_params(axis='x', pad=6)
ax.tick_params(axis='y', pad=8)

fig.text(928 / W, 1 - 42 / H, title_text, ha='center', va='center',
         fontsize=32, fontweight='bold', color='#111111')
fig.text(928 / W, 1 - 93 / H, subtitle_text, ha='center', va='center',
         fontsize=20, fontweight='bold', color='#111111')
fig.text(26 / W, 1 - 624 / H, ylabel_text, ha='center', va='center',
         rotation=90, fontsize=17, fontweight='bold', color='#111111')

fig.savefig('out.png', dpi=100, facecolor='white')
